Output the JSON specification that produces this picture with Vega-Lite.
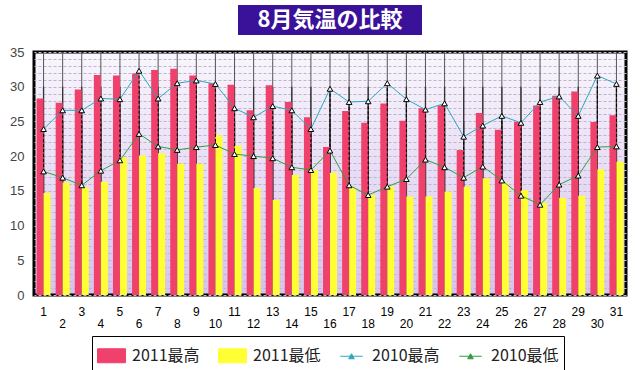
{
  "$schema": "https://vega.github.io/schema/vega-lite/v6.json",
  "padding": {"top": 5, "left": 8, "right": 5, "bottom": 2},
  "background": "white",
  "config": {"font": "Liberation Sans"},
  "bounds": "flush",
  "center": true,
  "spacing": 17,
  "vconcat": [
    {
      "width": 184,
      "height": 30,
      "view": {"fill": "#3a1199", "stroke": null},
      "data": {"values": [{"t": "8月気温の比較"}]},
      "mark": {"type": "text", "color": "white", "fontSize": 22, "fontWeight": "bold", "font": "Noto Sans CJK JP", "baseline": "middle", "align": "center"},
      "encoding": {"text": {"field": "t"}}
    },
    {
      "width": 592,
      "height": 243,
      "view": {
        "fill": {"gradient": "linear", "x1": 0, "y1": 0, "x2": 0, "y2": 1, "stops": [{"offset": 0, "color": "#f9f6fc"}, {"offset": 1, "color": "#d6c3ee"}]},
        "stroke": "#000",
        "strokeWidth": 3
      },
      "resolve": {"axis": {"y": "independent"}},
      "data": {"values": [
        {"day": 1, "hi2011": 28.3, "lo2011": 14.7, "hi2010": 23.9, "lo2010": 17.8},
        {"day": 2, "hi2011": 27.7, "lo2011": 16.2, "hi2010": 26.6, "lo2010": 16.9},
        {"day": 3, "hi2011": 29.6, "lo2011": 15.5, "hi2010": 26.6, "lo2010": 15.8},
        {"day": 4, "hi2011": 31.7, "lo2011": 16.3, "hi2010": 28.3, "lo2010": 17.9},
        {"day": 5, "hi2011": 31.6, "lo2011": 19.8, "hi2010": 28.2, "lo2010": 19.4},
        {"day": 6, "hi2011": 31.9, "lo2011": 20.1, "hi2010": 32.3, "lo2010": 23.2},
        {"day": 7, "hi2011": 32.4, "lo2011": 20.4, "hi2010": 28.3, "lo2010": 21.4},
        {"day": 8, "hi2011": 32.6, "lo2011": 18.9, "hi2010": 30.5, "lo2010": 20.9},
        {"day": 9, "hi2011": 31.6, "lo2011": 18.9, "hi2010": 30.9, "lo2010": 21.3},
        {"day": 10, "hi2011": 30.5, "lo2011": 23.0, "hi2010": 30.4, "lo2010": 21.6},
        {"day": 11, "hi2011": 30.3, "lo2011": 21.5, "hi2010": 26.9, "lo2010": 20.3},
        {"day": 12, "hi2011": 26.6, "lo2011": 15.4, "hi2010": 25.6, "lo2010": 20.0},
        {"day": 13, "hi2011": 30.2, "lo2011": 13.7, "hi2010": 27.2, "lo2010": 19.7},
        {"day": 14, "hi2011": 27.8, "lo2011": 17.3, "hi2010": 26.6, "lo2010": 18.4},
        {"day": 15, "hi2011": 25.6, "lo2011": 18.0, "hi2010": 23.9, "lo2010": 18.0},
        {"day": 16, "hi2011": 21.3, "lo2011": 17.6, "hi2010": 29.7, "lo2010": 20.8},
        {"day": 17, "hi2011": 26.5, "lo2011": 15.4, "hi2010": 27.8, "lo2010": 15.8},
        {"day": 18, "hi2011": 24.8, "lo2011": 14.4, "hi2010": 27.9, "lo2010": 14.4},
        {"day": 19, "hi2011": 27.6, "lo2011": 15.6, "hi2010": 30.5, "lo2010": 15.6},
        {"day": 20, "hi2011": 25.1, "lo2011": 14.2, "hi2010": 28.2, "lo2010": 16.7},
        {"day": 21, "hi2011": 26.9, "lo2011": 14.2, "hi2010": 26.7, "lo2010": 19.5},
        {"day": 22, "hi2011": 27.3, "lo2011": 14.9, "hi2010": 27.6, "lo2010": 18.4},
        {"day": 23, "hi2011": 20.9, "lo2011": 15.6, "hi2010": 22.8, "lo2010": 16.9},
        {"day": 24, "hi2011": 26.2, "lo2011": 16.8, "hi2010": 24.4, "lo2010": 18.5},
        {"day": 25, "hi2011": 23.8, "lo2011": 16.1, "hi2010": 25.8, "lo2010": 16.5},
        {"day": 26, "hi2011": 24.9, "lo2011": 15.1, "hi2010": 24.8, "lo2010": 14.3},
        {"day": 27, "hi2011": 27.3, "lo2011": 13.3, "hi2010": 27.8, "lo2010": 13.0},
        {"day": 28, "hi2011": 28.7, "lo2011": 14.0, "hi2010": 28.6, "lo2010": 15.9},
        {"day": 29, "hi2011": 29.3, "lo2011": 14.3, "hi2010": 25.8, "lo2010": 17.2},
        {"day": 30, "hi2011": 24.9, "lo2011": 18.1, "hi2010": 31.6, "lo2010": 21.3},
        {"day": 31, "hi2011": 25.9, "lo2011": 19.2, "hi2010": 30.4, "lo2010": 21.4}
      ]},
      "encoding": {
        "x": {
          "field": "day",
          "type": "ordinal",
          "title": null,
          "scale": {"paddingInner": 0.27, "paddingOuter": 0.135},
          "axis": {
            "labelAngle": 0,
            "domain": false,
            "ticks": false,
            "grid": false,
            "labelPadding": 11,
            "labelFontSize": 12,
            "labelColor": "#000",
            "labelOverlap": false,
            "labelBound": false,
            "labelLineHeight": 12,
            "labelExpr": "datum.value % 2 == 1 ? datum.label : ['', datum.label]"
          }
        }
      },
      "layer": [
        {
          "mark": {"type": "rule", "color": "#555", "strokeWidth": 1},
          "encoding": {}
        },
        {
          "mark": {"type": "rule", "color": "#333", "strokeWidth": 1.3},
          "encoding": {
            "y": {
              "datum": 25,
              "type": "quantitative",
              "scale": {"domain": [0, 35], "nice": false},
              "axis": {
                "orient": "right",
                "values": [0,1,2,3,4,5,6,7,8,9,10,11,12,13,14,15,16,17,18,19,20,21,22,23,24,25,26,27,28,29,30,31,32,33,34,35],
                "labels": false,
                "domain": false,
                "ticks": false,
                "title": null,
                "grid": true,
                "gridWidth": 1,
                "gridColor": "#bdb5cc",
                "gridDash": [3, 2]
              }
            }
          }
        },
        {
          "mark": {"type": "rule", "color": "#333", "strokeWidth": 1.3},
          "encoding": {"y": {"datum": 30, "type": "quantitative", "axis": null}}
        },
        {
          "transform": [{"fold": ["hi2011", "lo2011"], "as": ["series", "temp"]}],
          "mark": {"type": "bar"},
          "encoding": {
            "y": {
              "field": "temp",
              "type": "quantitative",
              "title": null,
              "axis": {
                "orient": "left",
                "values": [0, 5, 10, 15, 20, 25, 30, 35],
                "domain": false,
                "ticks": false,
                "grid": false,
                "labelPadding": 10,
                "labelFontSize": 13,
                "labelColor": "#444"
              }
            },
            "xOffset": {"field": "series", "scale": {"domain": ["hi2011", "lo2011"], "paddingInner": 0, "paddingOuter": 0}},
            "color": {
              "field": "series",
              "type": "nominal",
              "scale": {"domain": ["hi2011", "lo2011", "hi2010", "lo2010"], "range": ["#f0406c", "#ffff33", "#2ca8ba", "#2f9e3e"]},
              "legend": {
                "title": null,
                "orient": "none",
                "legendX": 58,
                "legendY": 331,
                "direction": "horizontal",
                "strokeColor": "#000",
                "fillColor": "white",
                "padding": 5,
                "columnPadding": 16,
                "labelFontSize": 16,
                "labelFont": "Noto Sans CJK JP",
                "labelColor": "#222",
                "labelOffset": 6,
                "symbolSize": 784,
                "labelExpr": "{'hi2011': '2011最高', 'lo2011': '2011最低', 'hi2010': '2010最高', 'lo2010': '2010最低'}[datum.label]",
                "encode": {
                  "symbols": {
                    "update": {
                      "shape": {"signal": "(datum.value == 'hi2011' || datum.value == 'lo2011') ? 'M-1,-0.5H1V0.5H-1Z' : 'M-0.8,0H0.8M-0.2,0.18L0,-0.18L0.2,0.18Z'"},
                      "fill": {"signal": "{'hi2011': '#f0406c', 'lo2011': '#ffff33', 'hi2010': 'transparent', 'lo2010': 'transparent'}[datum.value]"},
                      "stroke": {"signal": "{'hi2011': 'transparent', 'lo2011': 'transparent', 'hi2010': '#2ca8ba', 'lo2010': '#2f9e3e'}[datum.value]"},
                      "strokeWidth": {"value": 1},
                      "size": {"value": 784},
                      "opacity": {"value": 1}
                    }
                  }
                }
              }
            }
          }
        },
        {
          "mark": {"type": "rule", "color": "#000", "strokeDash": [3, 2], "strokeWidth": 1},
          "encoding": {
            "y": {"field": "hi2010", "type": "quantitative", "axis": null},
            "y2": {"field": "lo2010"}
          }
        },
        {
          "transform": [{"fold": ["hi2010", "lo2010"], "as": ["series", "temp"]}],
          "mark": {"type": "line", "strokeWidth": 1},
          "encoding": {
            "y": {"field": "temp", "type": "quantitative", "axis": null},
            "color": {"field": "series", "type": "nominal"}
          }
        },
        {
          "transform": [{"fold": ["hi2010", "lo2010"], "as": ["series", "temp"]}],
          "mark": {"type": "point", "shape": "triangle-up", "filled": true, "fill": "#ffffff", "stroke": "#000", "strokeWidth": 1, "size": 32, "opacity": 1},
          "encoding": {
            "y": {"field": "temp", "type": "quantitative", "axis": null},
            "detail": {"field": "series"}
          }
        }
      ]
    }
  ]
}
